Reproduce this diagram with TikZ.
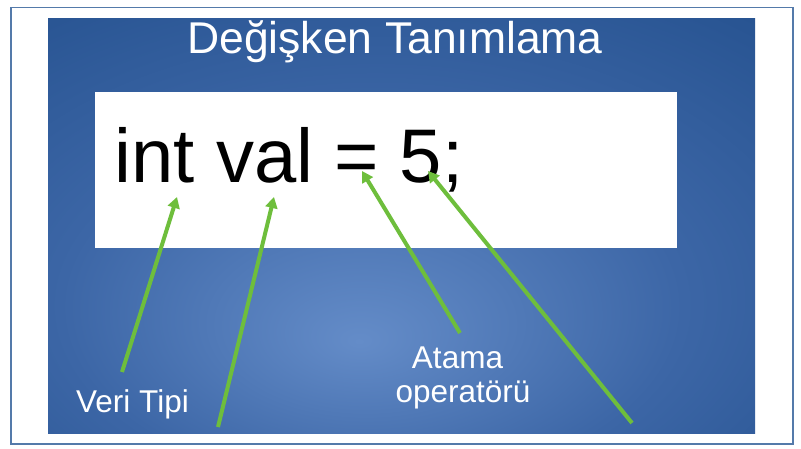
\documentclass[tikz,border=0pt]{standalone}
\usepackage{fontspec}
\setmainfont{Liberation Sans}
\usetikzlibrary{arrows.meta}
\definecolor{slidedark}{RGB}{22,68,128}
\definecolor{slidemid}{RGB}{60,102,166}
\definecolor{slidelight}{RGB}{100,140,200}
\definecolor{framecol}{RGB}{84,122,170}
\definecolor{arrowgreen}{RGB}{110,190,60}
\pgfdeclareradialshading{slidebg}{\pgfpoint{-3bp}{-14bp}}{%
  color(0bp)=(slidelight);
  color(22bp)=(slidemid);
  color(52bp)=(slidedark!85!slidemid);
  color(72bp)=(slidedark)}
\tikzset{
  pointer/.style={draw=arrowgreen, line width=4pt,
    -{Triangle[width=12pt,length=11pt]}},
  labeltext/.style={text=white, font=\fontsize{31.5}{34}\selectfont, inner sep=0pt, anchor=base},
}
\begin{document}
\begin{tikzpicture}[x=1pt,y=-1pt]
\useasboundingbox (0,0) rectangle (801,448);
\fill[white] (0,0) rectangle (801,448);
\draw[framecol, line width=1.8pt] (11,7.5) rectangle (793,444);
\shade[shading=slidebg] (48,18) rectangle (755,433);
\fill[white] (95,92) rectangle (677,248);
\node[anchor=base, text=white, inner sep=0pt, font=\fontsize{44.5}{48}\selectfont] (title) at (395,53) {Değişken Tanımlama};
\node[anchor=base, text=black, inner sep=0pt, font=\fontsize{76}{80}\selectfont] (code) at (289,182) {int val = 5;};
\node[labeltext] (veri) at (132.5,412) {Veri Tipi};
\node[labeltext] (atama) at (457.5,368) {Atama};
\node[labeltext] (operator) at (463,402) {operatörü};
\coordinate (t1) at (122,372);
\coordinate (h1) at (177,197);
\coordinate (t2) at (218,427);
\coordinate (h2) at (274,197);
\coordinate (t3) at (460,333);
\coordinate (h3) at (362,171);
\coordinate (t4) at (632,423);
\coordinate (h4) at (428,171);
\draw[pointer] (t1) -- (h1);
\draw[pointer] (t2) -- (h2);
\draw[pointer] (t3) -- (h3);
\draw[pointer] (t4) -- (h4);
\end{tikzpicture}
\end{document}
